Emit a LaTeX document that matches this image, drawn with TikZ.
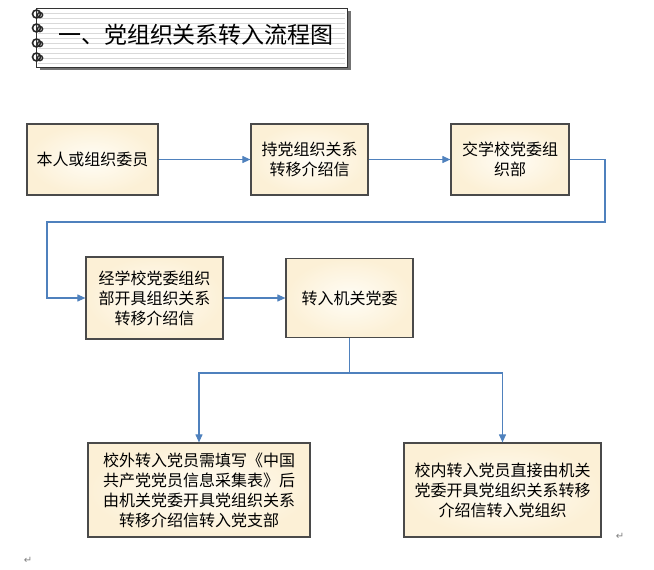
\documentclass[tikz,border=0pt]{standalone}
\usepackage{fontspec}
\usepackage{xcolor}
\usepackage{tikz}
\usetikzlibrary{arrows.meta}
\newfontfamily\cjk{Noto Sans CJK SC}
\newfontfamily\marksfont{DejaVu Sans}
\definecolor{flowblue}{HTML}{4F81BD}
\definecolor{boxedge}{HTML}{4A4A4A}
\definecolor{creamin}{HTML}{FFFDF6}
\definecolor{creamout}{HTML}{FCF0D6}

\begin{document}
\begin{tikzpicture}[x=1pt,y=-1pt]
			\tikzstyle{stage} = [draw=boxedge, line width=1.2pt, inner color=creamin, outer color=creamout, font=\cjk\fontsize{16}{20}\selectfont, align=center, inner sep=0pt]
			\tikzstyle{parmark} = [font=\marksfont\fontsize{10}{10}\selectfont, text=gray]
			\tikzset{edge/.style = {draw=flowblue, line width=1.1pt, -{Triangle[length=8pt,width=7pt]}}}
			\tikzset{wire/.style = {draw=flowblue, line width=1.1pt}}
			
			\useasboundingbox (0,0) rectangle (654,570);
			
			% title card
			\fill[black!55] (40,11) rectangle (351,70);
			\filldraw[fill=white, draw=black!80, line width=1pt] (36,8) rectangle (347,67);
			\foreach \y in {13,18,...,63}
				\draw[black!15] (38,\y) -- (345,\y);
			\foreach \y in {14,28,43,57} {
				\draw[black!85, line width=1.6pt] (36.5,\y) circle[radius=4pt];
				\draw[black!85, line width=1.4pt] (40,\y+1) circle[radius=2.6pt];
			}
			\node[font=\cjk\fontsize{23}{23}\selectfont](title) at (196,35) {一、党组织关系转入流程图};
			
			\node[stage, minimum width=131pt, minimum height=71pt](step1) at (92.5,159.5) {本人或组织委员};
			\node[stage, minimum width=117pt, minimum height=71pt](step2) at (309.5,159.5) {持党组织关系\\转移介绍信};
			\node[stage, minimum width=118pt, minimum height=71pt](step3) at (510,159.5) {交学校党委组\\织部};
			\node[stage, minimum width=137pt, minimum height=82pt](step4) at (154.5,298) {经学校党委组织\\部开具组织关系\\转移介绍信};
			\node[stage, minimum width=127pt, minimum height=79pt](step5) at (349.5,298) {转入机关党委};
			\node[stage, minimum width=222pt, minimum height=94pt](step6) at (199,490) {校外转入党员需填写《中国\\共产党党员信息采集表》后\\由机关党委开具党组织关系\\转移介绍信转入党支部};
			\node[stage, minimum width=197pt, minimum height=94pt](step7) at (502.5,490) {校内转入党员直接由机关\\党委开具党组织关系转移\\介绍信转入党组织};
			
			\coordinate (bendR) at (605,222);
			\coordinate (bendL) at (47,222);
			\coordinate (split) at (349.5,373);
			
			\draw[edge](step1) to (step2);
			\draw[edge](step2) to (step3);
			\draw[edge](step3.east) -| (bendR) -- (bendL) |- (step4.west);
			\draw[edge](step4) to (step5);
			\draw[wire](step5.south) -- (split);
			\draw[edge](split) -| (step6.north);
			\draw[edge](split) -| (step7.north);
			
			\node[parmark](markR) at (620,536) {↵};
			\node[parmark](markL) at (28,560) {↵};
			
\end{tikzpicture}
\end{document}
